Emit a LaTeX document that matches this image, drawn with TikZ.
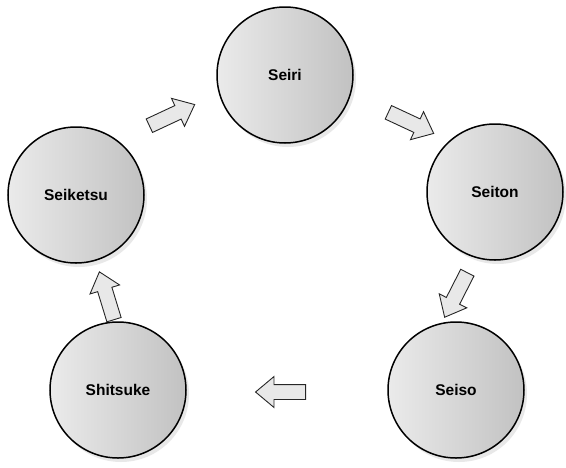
\documentclass[tikz,border=0pt]{standalone}
\usepackage{fontspec}
\setmainfont{Liberation Sans}
\usetikzlibrary{shapes.arrows,shadows}
\begin{document}
\begin{tikzpicture}[x=1pt,y=-1pt,
  stage/.style={circle,draw=black,line width=1.5pt,minimum size=136pt,inner sep=0pt,
    left color=black!8,right color=black!24,
    drop shadow={opacity=0.18,shadow xshift=3pt,shadow yshift=-4pt},
    font=\bfseries\fontsize{15.5}{18}\selectfont},
  turn/.style={single arrow,draw=black!85,fill=black!9,line width=0.9pt,
    minimum height=50pt,inner sep=7pt,single arrow head extend=8pt,
    single arrow tip angle=80}]
  \useasboundingbox (0,0) rectangle (566,467);
  \node[stage] (seiri) at (285,75) {Seiri};
  \node[stage] (seiton) at (495,192) {Seiton};
  \node[stage] (seiso) at (456,390) {Seiso};
  \node[stage] (shitsuke) at (118,390) {Shitsuke};
  \node[stage] (seiketsu) at (76,195) {Seiketsu};
  % arrows between the stages
  \node[turn,rotate=25] (a1) at (168,117) {};
  \node[turn,rotate=-25] (a2) at (407,121) {};
  \node[turn,rotate=-117] (a3) at (458,291) {};
  \node[turn,rotate=180] (a4) at (285,392) {};
  \node[turn,rotate=107] (a5) at (108,300) {};
\end{tikzpicture}
\end{document}
